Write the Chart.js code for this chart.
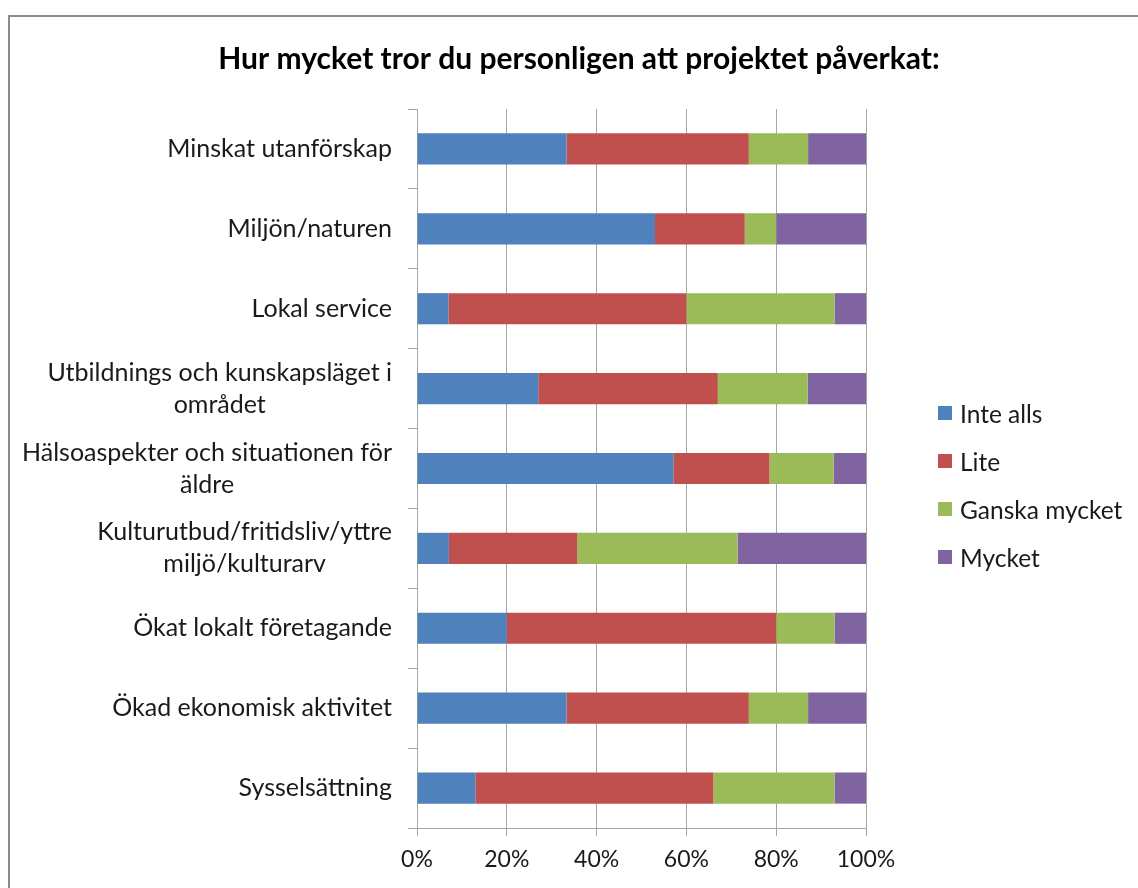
<!DOCTYPE html>
<html>
<head>
<meta charset="utf-8">
<title>Projektets påverkan</title>
<script src="https://cdn.jsdelivr.net/npm/chart.js@4"></script>
<style>
  html, body { margin: 0; padding: 0; background: #fff; overflow: hidden; }
  .frame { position: absolute; left: 8px; top: 15px; width: 1150px; height: 900px; border: 2px solid #8c8c8c; }
  .chart-box { position: absolute; left: 0; top: 0; width: 1138px; height: 861px; }
  #legend { position: absolute; left: 928px; top: 372px; list-style: none; margin: 0; padding: 0;
            font-family: Lato, sans-serif; font-size: 24.5px; color: #1a1a1a; }
  #legend li { display: flex; align-items: center; height: 48px; white-space: nowrap; }
  #legend .swatch { display: inline-block; width: 14px; height: 14px; margin-right: 8px; }
</style>
</head>
<body>
<div class="frame">
  <div class="chart-box"><canvas id="impactChart"></canvas></div>
  <ul id="legend"></ul>
</div>
<script>
// Svarskategorier (uppifrån och ned)
const categories = [
  'Minskat utanförskap',
  'Miljön/naturen',
  'Lokal service',
  ['Utbildnings och kunskapsläget i', 'området'],
  ['Hälsoaspekter och situationen för', 'äldre'],
  ['Kulturutbud/fritidsliv/yttre', 'miljö/kulturarv'],
  'Ökat lokalt företagande',
  'Ökad ekonomisk aktivitet',
  'Sysselsättning'
];

// Andel svar i procent
const inteAlls     = [33.3, 53, 7, 27, 57.1, 7.1, 20, 33.3, 13];
const lite         = [40.6, 20, 53, 40, 21.4, 28.6, 60, 40.6, 53];
const ganskaMycket = [13.2, 7, 33, 20, 14.3, 35.7, 13, 13.2, 27];
const mycket       = [12.9, 20, 7, 13, 7.2, 28.6, 7, 12.9, 7];

const seriesNames = ['Inte alls', 'Lite', 'Ganska mycket', 'Mycket'];
const seriesColors = ['#4f81bd', '#c0504d', '#9bbb59', '#8064a2'];
const xTicks = [0, 20, 40, 60, 80, 100];

const FONT = 'Lato';
const TEXT = '#1a1a1a';
const GRID = '#a6a6a6';

// kategorietiketter: högerställda block, raderna centrerade inom blocket
const categoryLabels = {
  id: 'categoryLabels',
  afterDraw(chart) {
    const scale = chart.scales.y;
    const ctx = chart.ctx;
    const right = scale.right - 25;
    const lineGap = 32;
    ctx.save();
    ctx.font = '25px ' + FONT;
    ctx.fillStyle = TEXT;
    ctx.textAlign = 'center';
    ctx.textBaseline = 'middle';
    categories.forEach((label, i) => {
      const lines = Array.isArray(label) ? label : [label];
      const widest = Math.max(...lines.map(l => ctx.measureText(l).width));
      const cx = right - widest / 2;
      const cy = scale.getPixelForValue(i);
      lines.forEach((line, j) => {
        ctx.fillText(line, cx, cy + (j - (lines.length - 1) / 2) * lineGap);
      });
    });
    ctx.restore();
  }
};

const datasets = [inteAlls, lite, ganskaMycket, mycket].map((values, i) => ({
  label: seriesNames[i],
  data: values,
  backgroundColor: seriesColors[i],
  borderWidth: 0,
  barPercentage: 1,
  categoryPercentage: 0.39
}));

const chart = new Chart(document.getElementById('impactChart'), {
  type: 'bar',
  data: { labels: categories, datasets },
  plugins: [categoryLabels],
  options: {
    indexAxis: 'y',
    responsive: true,
    maintainAspectRatio: false,
    animation: false,
    layout: { padding: 0 },
    plugins: {
      legend: { display: false },
      tooltip: { enabled: false },
      title: {
        display: true,
        text: 'Hur mycket tror du personligen att projektet påverkat:',
        color: '#000',
        font: { family: FONT, size: 30, weight: 'bold' },
        padding: { top: 24, bottom: 32 }
      }
    },
    scales: {
      x: {
        stacked: true,
        min: 0,
        max: 100,
        afterBuildTicks(scale) {
          scale.ticks = xTicks.map(v => ({ value: v }));
        },
        ticks: {
          callback: v => v + '%',
          color: TEXT,
          font: { family: FONT, size: 23 },
          padding: 10,
          maxRotation: 0
        },
        grid: { color: GRID, tickLength: 8 },
        border: { color: GRID },
        afterFit(scale) { scale.height = 50; }
      },
      y: {
        stacked: true,
        ticks: { display: false },
        grid: { offset: true, drawOnChartArea: false, tickLength: 9, color: GRID },
        border: { color: GRID },
        afterFit(scale) { scale.width = 407; }
      },
      // tom yta till höger där förklaringen ligger
      legendSpace: {
        type: 'linear',
        position: 'right',
        display: true,
        grid: { display: false },
        border: { display: false },
        ticks: { display: false },
        afterFit(scale) { scale.width = 282; }
      }
    }
  }
});

// förklaring som HTML-lista
const legendList = document.getElementById('legend');
chart.options.plugins.legend.labels.generateLabels(chart).forEach(item => {
  const li = document.createElement('li');
  const swatch = document.createElement('span');
  swatch.className = 'swatch';
  swatch.style.background = item.fillStyle;
  li.appendChild(swatch);
  li.appendChild(document.createTextNode(item.text));
  legendList.appendChild(li);
});
</script>
</body>
</html>
